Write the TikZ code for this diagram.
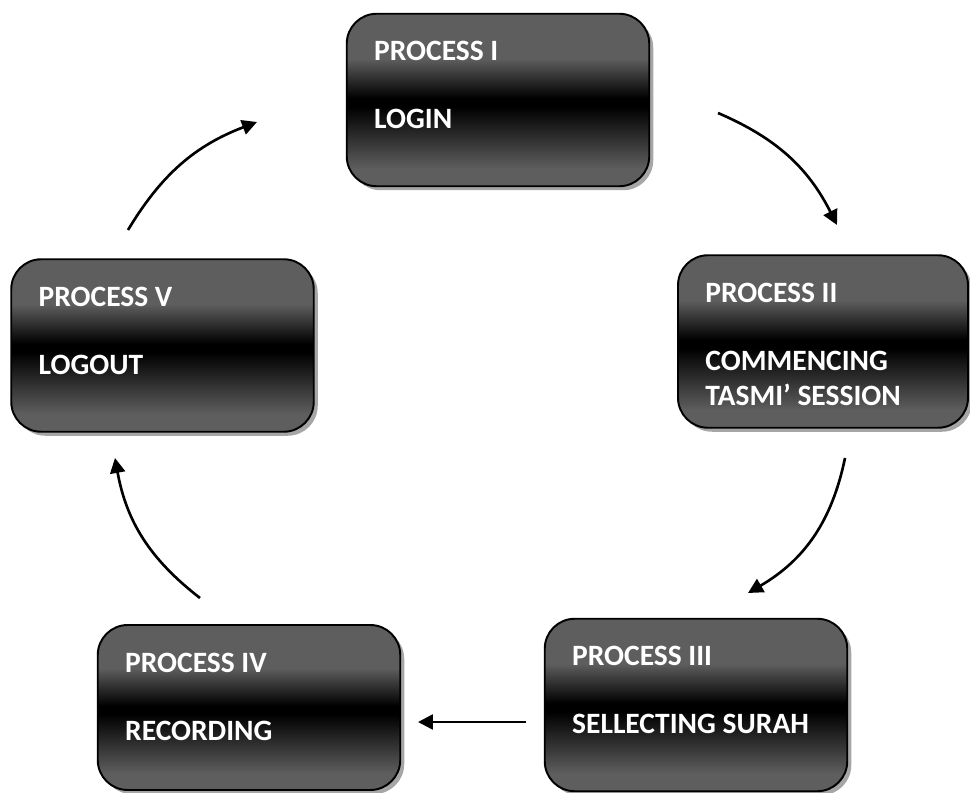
\documentclass[tikz,border=0pt]{standalone}
\usepackage{fontspec}
\setmainfont{Carlito}
\usetikzlibrary{arrows.meta,positioning,shadows}

\definecolor{boxgray}{gray}{0.37}
\pgfdeclareverticalshading{procshade}{100bp}{color(0bp)=(boxgray); color(30bp)=(boxgray); color(48bp)=(black); color(50.5bp)=(black); color(62bp)=(boxgray); color(100bp)=(boxgray)}

\tikzset{
  procbox/.style={draw=black, line width=1.1pt, rounded corners=0.6cm, shading=procshade,
    minimum width=6.05cm, minimum height=3.45cm,
    drop shadow={shadow xshift=0.08cm, shadow yshift=-0.08cm, fill=gray!70, opacity=1}},
  proctext/.style={inner sep=0pt, anchor=base west, text=white, font=\fontsize{16.8}{20}\selectfont\bfseries},
  flowarrow/.style={line width=1.5pt, -{Triangle[length=8.5pt,width=8.5pt]}}
}

\begin{document}
\begin{tikzpicture}
	\useasboundingbox (0,0) rectangle (19.4,15.84);

	% process boxes
	\node[procbox] (p1) at (9.96,13.84) {};
	\node[procbox, minimum width=5.8cm] (p2) at (16.46,9.01) {};
	\node[procbox] (p3) at (13.92,1.74) {};
	\node[procbox, minimum height=3.3cm] (p4) at (4.98,1.69) {};
	\node[procbox] (p5) at (3.25,8.93) {};

	% labels
	\node[proctext] (t1a) at ([xshift=0.56cm,yshift=-0.96cm]p1.north west) {PROCESS I};
	\node[proctext] (t1b) at ([xshift=0.56cm,yshift=-2.32cm]p1.north west) {LOGIN};
	\node[proctext] (t2a) at ([xshift=0.56cm,yshift=-0.96cm]p2.north west) {PROCESS II};
	\node[proctext] (t2b) at ([xshift=0.56cm,yshift=-2.32cm]p2.north west) {COMMENCING};
	\node[proctext] (t2c) at ([xshift=0.56cm,yshift=-3.02cm]p2.north west) {TASMI’ SESSION};
	\node[proctext] (t3a) at ([xshift=0.56cm,yshift=-0.96cm]p3.north west) {PROCESS III};
	\node[proctext] (t3b) at ([xshift=0.56cm,yshift=-2.32cm]p3.north west) {SELLECTING SURAH};
	\node[proctext] (t4a) at ([xshift=0.56cm,yshift=-0.96cm]p4.north west) {PROCESS IV};
	\node[proctext] (t4b) at ([xshift=0.56cm,yshift=-2.32cm]p4.north west) {RECORDING};
	\node[proctext] (t5a) at ([xshift=0.56cm,yshift=-0.96cm]p5.north west) {PROCESS V};
	\node[proctext] (t5b) at ([xshift=0.56cm,yshift=-2.32cm]p5.north west) {LOGOUT};

	% arrow ends
	\coordinate (p1out) at (14.36,13.58);
	\coordinate (p2in)  at (16.74,11.34);
	\coordinate (p2out) at (16.90,6.68);
	\coordinate (p3in)  at (14.96,3.98);
	\coordinate (p3out) at (10.52,1.40);
	\coordinate (p4in)  at (8.36,1.40);
	\coordinate (p4out) at (4.00,3.88);
	\coordinate (p5in)  at (2.30,6.68);
	\coordinate (p5out) at (2.56,11.24);
	\coordinate (p1in)  at (5.14,13.40);

	\foreach \from/\to/\bend in {p1out/p2in/20,p2out/p3in/24,p3out/p4in/0,p4out/p5in/21,p5out/p1in/19}
		\draw[flowarrow] (\from) to[bend left=\bend] (\to);
\end{tikzpicture}
\end{document}
